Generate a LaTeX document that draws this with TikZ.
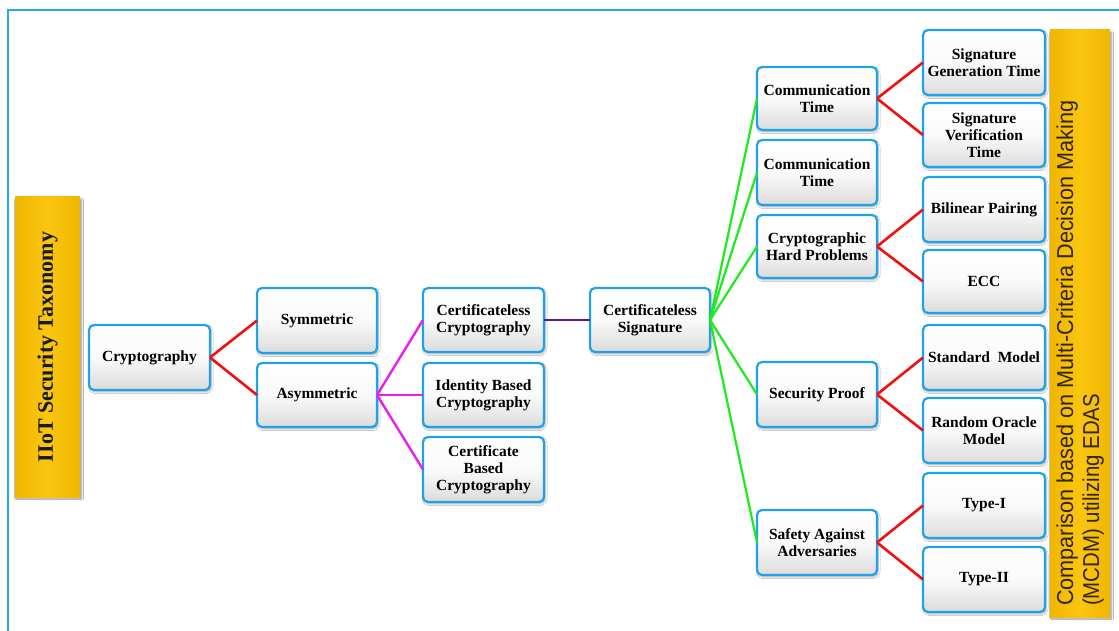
\documentclass[tikz,border=0pt]{standalone}
\usepackage{fontspec}
\setmainfont{Liberation Serif}
\newfontfamily\barsans{Liberation Sans}
\usetikzlibrary{shadows.blur}

\definecolor{edgeblue}{RGB}{32,162,232}
\definecolor{framblue}{RGB}{40,170,230}
\definecolor{goldA}{RGB}{240,182,0}
\definecolor{goldB}{RGB}{250,198,16}
\definecolor{linkred}{RGB}{240,16,16}
\definecolor{linkmag}{RGB}{236,30,236}
\definecolor{linkpur}{RGB}{80,28,145}
\definecolor{linkgreen}{RGB}{30,235,30}
\definecolor{bartext}{RGB}{50,36,8}

\tikzset{
  box/.style={draw=edgeblue, line width=2.2pt, rounded corners=5pt,
    top color=white, bottom color=black!14, middle color=black!2,
    align=center, inner sep=2pt, outer sep=0pt,
    font=\bfseries\fontsize{15.5}{17}\selectfont,
    blur shadow={shadow blur steps=6, shadow xshift=1.2pt, shadow yshift=-1.8pt, shadow opacity=35}},
  goldbar/.style={draw=none, left color=goldA, right color=goldA, middle color=goldB,
    outer sep=0pt, inner sep=0pt,
    blur shadow={shadow blur steps=6, shadow xshift=1.5pt, shadow yshift=-2pt, shadow opacity=40}},
  redlink/.style={draw=linkred, line width=2.6pt},
  maglink/.style={draw=linkmag, line width=2.4pt},
  purlink/.style={draw=linkpur, line width=2.6pt},
  greenlink/.style={draw=linkgreen, line width=2.2pt},
}

% \tbox{name}{x1}{y1}{x2}{y2}{text}: box given by its pixel corners
\newcommand\tbox[6]{%
  \node[box, minimum width={(#4)-(#2)}, minimum height={(#5)-(#3)}]
    (#1) at ({((#2)+(#4))/2},{((#3)+(#5))/2}) {#6};}

\begin{document}
\begin{tikzpicture}[x=1pt, y=-1pt]
\useasboundingbox[fill=white] (0,0) rectangle (1119,631);

% frame lines
\draw[framblue, line width=2pt] (8,631) -- (8,10) -- (1119,10);

% side bars
\node[goldbar, minimum width=65pt, minimum height=300pt] (taxbar) at (47.5,347) {};
\node[rotate=90, font=\bfseries\fontsize{22}{24}\selectfont, text=black!90] (taxtext) at (taxbar.center) {IIoT Security Taxonomy};

\node[goldbar, minimum width=60pt, minimum height=587pt] (edasbar) at (1080,323.5) {};
\node[rotate=90, anchor=west, inner sep=0pt, text=bartext,
      font=\barsans\fontsize{23}{26}\selectfont] (edastext) at (1081,606)
  {\begin{tabular}{@{}l@{}}
   \resizebox{505pt}{\height}{Comparison based on Multi-Criteria Decision Making}\\
   \resizebox{212pt}{\height}{(MCDM) utilizing EDAS}
   \end{tabular}};

% level 1-2
\tbox{crypt}{89}{325}{210}{390}{Cryptography}
\tbox{sym}{257}{288}{377}{353}{Symmetric}
\tbox{asym}{257}{363}{377}{427}{Asymmetric}

% asymmetric branch
\tbox{clc}{423}{288}{544}{352}{Certificateless\\Cryptography}
\tbox{ibc}{423}{363}{544}{427}{Identity Based\\Cryptography}
\tbox{cbc}{423}{437}{544}{502}{Certificate\\Based\\Cryptography}
\tbox{cls}{590}{288}{710}{352}{Certificateless\\Signature}

% criteria
\tbox{comm}{757}{67}{877}{130}{Communication\\Time}
\tbox{commb}{757}{140}{877}{205}{Communication\\Time}
\tbox{hard}{757}{215}{877}{278}{Cryptographic\\Hard Problems}
\tbox{proof}{757}{362}{877}{427}{Security Proof}
\tbox{safe}{757}{510}{877}{575}{Safety Against\\Adversaries}

% sub-criteria
\tbox{sgen}{923}{30}{1045}{95}{Signature\\Generation Time}
\tbox{sver}{923}{103}{1045}{167}{Signature\\Verification\\Time}
\tbox{bil}{923}{177}{1045}{242}{Bilinear Pairing}
\tbox{ecc}{923}{250}{1045}{313}{ECC}
\tbox{std}{923}{325}{1045}{390}{Standard~~Model}
\tbox{rom}{923}{398}{1045}{463}{Random Oracle\\Model}
\tbox{t1}{923}{473}{1045}{538}{Type-I}
\tbox{t2}{923}{547}{1045}{612}{Type-II}

% connectors
\draw[redlink] (crypt.east) -- (sym.west);
\draw[redlink] (crypt.east) -- (asym.west);
\draw[maglink] (asym.east) -- (clc.west);
\draw[maglink] (asym.east) -- (ibc.west);
\draw[maglink] (asym.east) -- (cbc.west);
\draw[purlink] (clc.east) -- (cls.west);
\foreach \c in {comm,commb,hard,proof,safe}
  \draw[greenlink] (cls.east) -- (\c.west);
\draw[redlink] (comm.east) -- (sgen.west);
\draw[redlink] (comm.east) -- (sver.west);
\draw[redlink] (hard.east) -- (bil.west);
\draw[redlink] (hard.east) -- (ecc.west);
\draw[redlink] (proof.east) -- (std.west);
\draw[redlink] (proof.east) -- (rom.west);
\draw[redlink] (safe.east) -- (t1.west);
\draw[redlink] (safe.east) -- (t2.west);
\end{tikzpicture}
\end{document}
